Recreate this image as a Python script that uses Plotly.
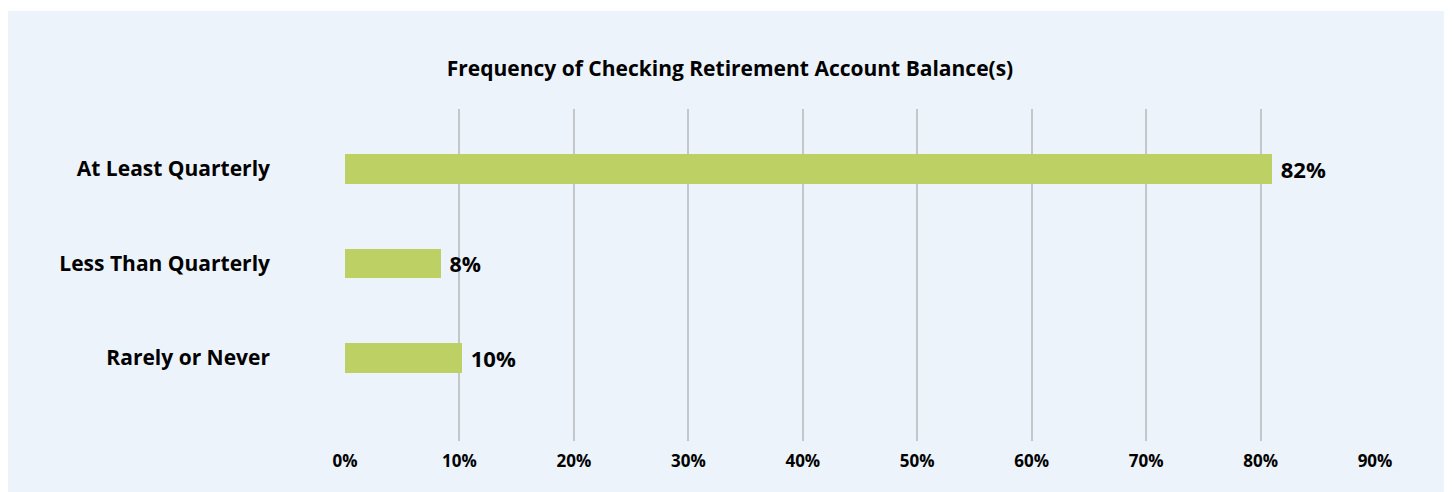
import plotly.graph_objects as go

categories = ["At Least Quarterly", "Less Than Quarterly", "Rarely or Never"]
values = [81.0, 8.4, 10.2]
value_labels = ["82%", "8%", "10%"]
x_ticks = [0, 10, 20, 30, 40, 50, 60, 70, 80, 90]
x_tick_labels = ["0%", "10%", "20%", "30%", "40%", "50%", "60%", "70%", "80%", "90%"]
title_text = "Frequency of Checking Retirement Account Balance(s)"

FONT = "Open Sans"

fig = go.Figure()
fig.add_trace(go.Bar(
    x=values,
    y=categories,
    orientation="h",
    width=0.314,
    marker=dict(color="#BDD063", line=dict(width=0)),
    text=value_labels,
    texttemplate="\u00a0%{text}",
    textposition="outside",
    textfont=dict(family=FONT, size=25, color="#000000", weight="bold"),
    cliponaxis=False,
    hoverinfo="skip",
))

fig.add_shape(
    type="rect", xref="paper", yref="paper",
    x0=-0.4, x1=1.0699, y0=-0.3, y1=1.2952,
    fillcolor="#ECF3FA", line=dict(width=0), layer="below",
)

fig.update_layout(
    width=1444, height=484,
    margin=dict(l=337, r=77, t=101, b=51),
    paper_bgcolor="#FFFFFF",
    plot_bgcolor="rgba(0,0,0,0)",
    showlegend=False,
    bargap=0,
    title=dict(
        text=title_text, x=0.5, xref="container", xanchor="center",
        y=1 - 61 / 484, yref="container", yanchor="middle",
        font=dict(family=FONT, size=21, color="#000000", weight="bold"),
    ),
    xaxis=dict(
        range=[0, 90],
        tickvals=x_ticks, ticktext=x_tick_labels,
        showgrid=True, gridcolor="#C4C7CA", gridwidth=2,
        zeroline=False, showline=False,
        ticks="", ticklabelstandoff=8,
        tickfont=dict(family=FONT, size=17, color="#000000", weight="bold"),
    ),
    yaxis=dict(
        range=[2.878, -0.635],
        showgrid=False, zeroline=False, showline=False,
        ticks="", ticklabelstandoff=74,
        tickfont=dict(family=FONT, size=21, color="#000000", weight="bold"),
    ),
)

fig.write_html("out.html")
